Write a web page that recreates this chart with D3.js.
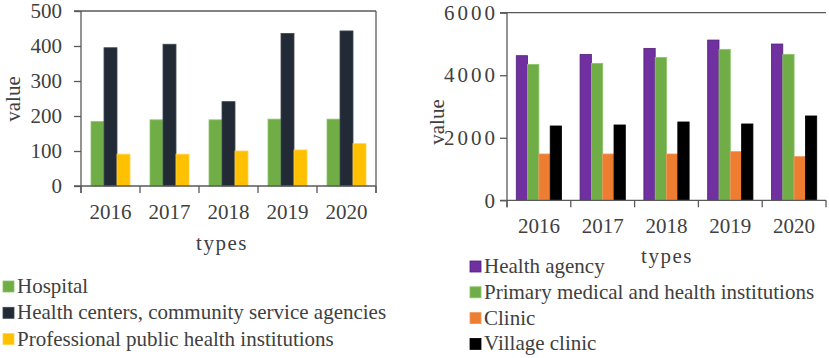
<!DOCTYPE html>
<html>
  <head lang="en">
    <meta charset="utf-8">
    <title>Medical institutions 2016-2020</title>
    <script type="text/javascript" src="https://cdn.jsdelivr.net/npm/d3@7/dist/d3.min.js"></script>
    <style>
      body { margin: 0; background: #fff; }
      text { font-family: "Liberation Serif", "Times New Roman", serif; fill: #404040; }
    </style>
  </head>
  <body>
    <script type="text/javascript">

      // years on the x axis
      var years = ["2016", "2017", "2018", "2019", "2020"];

      // left chart series
      var hospital = [184, 189, 189, 191, 191];
      var healthCenters = [395, 405, 241, 436, 443];
      var publicHealth = [91, 91, 100, 103, 121];
      var leftNames = ["Hospital", "Health centers, community service agencies", "Professional public health institutions"];
      var leftTicks = [0, 100, 200, 300, 400, 500];

      // right chart series
      var healthAgency = [4625, 4667, 4859, 5125, 4998];
      var primaryCare = [4348, 4380, 4572, 4828, 4667];
      var clinic = [1481, 1481, 1481, 1556, 1396];
      var villageClinic = [2377, 2409, 2505, 2441, 2697];
      var rightNames = ["Health agency", "Primary medical and health institutions", "Clinic", "Village clinic"];
      var rightTicks = [0, 2000, 4000, 6000];

      var svg = d3.select("body")
                  .append("svg")
                  .attr("width", 829)
                  .attr("height", 358);

      // draws one grouped bar chart
      function drawChart(opt) {
        var g = svg.append("g");

        var x = d3.scaleBand()
            .domain(years)
            .range([opt.left, opt.right]);

        var inner = d3.scaleBand()
            .domain(d3.range(opt.series.length))
            .range([0, x.bandwidth()])
            .paddingOuter(opt.outer);

        var y = d3.scaleLinear()
            .domain([0, opt.max])
            .range([opt.bottom, opt.top]);

        // frame lines
        g.append("line")
            .attr("x1", opt.left - 7).attr("x2", opt.right)
            .attr("y1", opt.top).attr("y2", opt.top)
            .attr("stroke", "#595959").attr("stroke-width", 1.3);
        if (opt.rightFrame) {
          g.append("line")
              .attr("x1", opt.right).attr("x2", opt.right)
              .attr("y1", opt.top).attr("y2", opt.bottom + 7)
              .attr("stroke", "#595959").attr("stroke-width", 1.3);
        }

        // bars
        opt.series.forEach(function(values, s) {
          g.selectAll(".bar" + s)
              .data(values)
              .enter()
              .append("rect")
              .attr("x", function(d, i) { return x(years[i]) + inner(s); })
              .attr("y", function(d) { return y(d); })
              .attr("width", inner.bandwidth())
              .attr("height", function(d) { return y(0) - y(d); })
              .attr("fill", opt.colors[s])
              .attr("stroke", opt.strokes[s])
              .attr("stroke-width", 0.8);
        });

        // y axis
        var yAxis = g.append("g")
            .attr("transform", "translate(" + opt.left + ",0)")
            .call(d3.axisLeft(y).tickValues(opt.ticks).tickSize(7).tickPadding(opt.tickPad).tickFormat(d3.format("d")));
        yAxis.select(".domain").attr("d", "M0," + opt.top + "V" + (opt.bottom + 7));
        yAxis.selectAll("line, path").attr("stroke", "#595959").attr("stroke-width", 1.3);
        yAxis.selectAll("text")
            .attr("font-size", 21)
            .attr("letter-spacing", opt.tickSpacing)
            .attr("fill", "#404040")
            .style("font-family", "Liberation Serif");

        // x axis: baseline with ticks at category boundaries
        g.append("line")
            .attr("x1", opt.left - 7).attr("x2", opt.right)
            .attr("y1", opt.bottom).attr("y2", opt.bottom)
            .attr("stroke", "#595959").attr("stroke-width", 1.3);
        g.selectAll(".xtick")
            .data(years.concat(["end"]))
            .enter()
            .append("line")
            .attr("x1", function(d, i) { return opt.left + i * x.step(); })
            .attr("x2", function(d, i) { return opt.left + i * x.step(); })
            .attr("y1", opt.bottom).attr("y2", opt.bottom + 7)
            .attr("stroke", "#595959").attr("stroke-width", 1.3);
        g.selectAll(".xlabel")
            .data(years)
            .enter()
            .append("text")
            .attr("x", function(d) { return x(d) + x.bandwidth() / 2; })
            .attr("y", opt.bottom + opt.labelDrop)
            .attr("text-anchor", "middle")
            .attr("font-size", 21)
            .text(function(d) { return d; });

        // axis titles
        g.append("text")
            .attr("x", opt.typesX)
            .attr("y", opt.typesY)
            .attr("text-anchor", "middle")
            .attr("font-size", 21)
            .attr("letter-spacing", 1.5)
            .text("types");
        g.append("text")
            .attr("transform", "translate(" + opt.valueX + "," + opt.valueY + ") rotate(-90)")
            .attr("text-anchor", "middle")
            .attr("font-size", 21)
            .text("value");

        // legend
        var leg = g.selectAll(".legend")
            .data(opt.names)
            .enter()
            .append("g")
            .attr("transform", function(d, i) {
              return "translate(" + opt.legX + "," + (opt.legY + i * opt.legStep) + ")";
            });
        leg.append("rect")
            .attr("x", 0).attr("y", -12)
            .attr("width", 11).attr("height", 11)
            .attr("fill", function(d, i) { return opt.colors[i]; })
            .attr("stroke", function(d, i) { return opt.strokes[i]; })
            .attr("stroke-width", 0.8);
        leg.append("text")
            .attr("x", 14)
            .attr("y", 0)
            .attr("font-size", 21)
            .attr("fill", "#262626")
            .text(function(d) { return d; });
      }

      drawChart({
        series: [hospital, healthCenters, publicHealth],
        names: leftNames,
        colors: ["#70ad47", "#222a35", "#ffc000"],
        strokes: ["#8cc46a", "#3c4654", "#ffd24d"],
        ticks: leftTicks, max: 500,
        left: 81, right: 376, top: 11, bottom: 186,
        outer: 0.77, tickPad: 12, tickSpacing: 0, rightFrame: true,
        labelDrop: 32.5, typesX: 222, typesY: 250, valueX: 20, valueY: 99,
        legX: 3, legY: 293, legStep: 26.3
      });

      drawChart({
        series: [healthAgency, primaryCare, clinic, villageClinic],
        names: rightNames,
        colors: ["#7030a0", "#70ad47", "#ed7d31", "#000000"],
        strokes: ["#52207a", "#8cc46a", "#f0975a", "#000000"],
        ticks: rightTicks, max: 6000,
        left: 507, right: 826, top: 12.7, bottom: 200.3,
        outer: 0.82, tickPad: 2, tickSpacing: 3, rightFrame: false,
        labelDrop: 33, typesX: 667, typesY: 263, valueX: 444, valueY: 122,
        legX: 470, legY: 273, legStep: 25.8
      });
    </script>
  </body>
</html>
